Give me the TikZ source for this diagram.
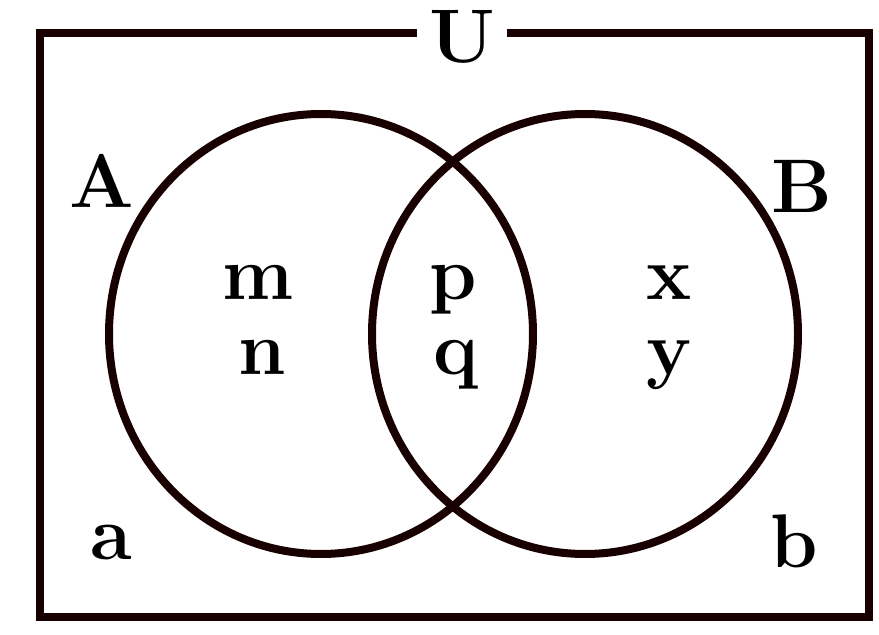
\documentclass[tikz,border=0pt]{standalone}
\usetikzlibrary{positioning}
\tikzset{
  setlbl/.style={font=\fontsize{76}{80}\selectfont\bfseries, anchor=base, inner sep=0pt},
  setline/.style={line width=8pt, color=black!90!red}
}
\begin{document}
\begin{tikzpicture}[x=1pt,y=1pt]
        \useasboundingbox (0,0) rectangle (879,635);
        \draw[setline] (40,18) rectangle (869,602);
        \node[setlbl, fill=white, inner xsep=12pt, inner ysep=0pt] (U) at (462,572) {U};
        \coordinate (cA) at (321,301);
        \coordinate (cB) at (585,301);
        \draw[setline] (cA) ellipse [x radius=212, y radius=220];
        \draw[setline] (cB) ellipse [x radius=213, y radius=220];
        \node[setlbl] (A) at (102,427) {A};
        \node[setlbl] (B) at (802,422) {B};
        \node[setlbl] (m) at (258,335) {m};
        \node[setlbl] (n) at (262,260) {n};
        \node[setlbl] (p) at (453,335) {p};
        \node[setlbl] (q) at (456,260) {q};
        \node[setlbl] (x) at (669,335) {x};
        \node[setlbl] (y) at (669,260) {y};
        \node[setlbl] (a) at (111,75) {a};
        \node[setlbl] (b) at (794,67) {b};
    \end{tikzpicture}
\end{document}
